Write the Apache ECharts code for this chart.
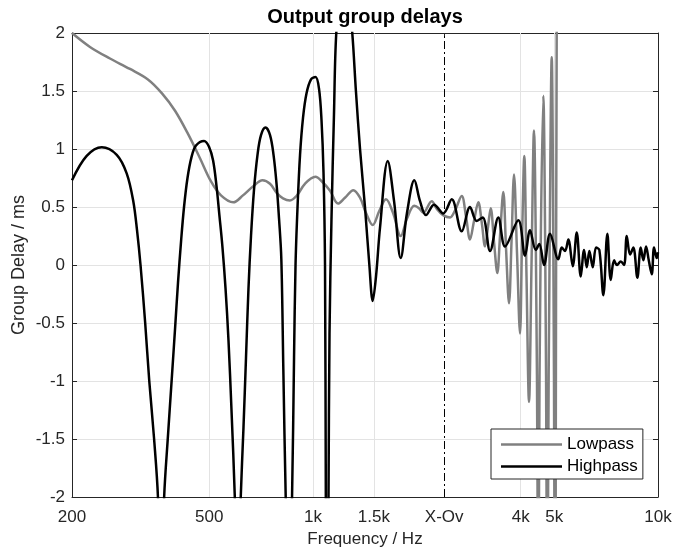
<!DOCTYPE html>
<html>
<head>
<meta charset="utf-8">
<script src="https://cdn.jsdelivr.net/npm/echarts@6/dist/echarts.min.js"></script>
<style>
html,body{margin:0;padding:0;background:#fff;}
#chart{width:675px;height:548px;}
</style>
</head>
<body>
<div id="chart"></div>
<script>
// ---- data ----
const tickValues = [200, 500, 1000, 1500, 2400, 4000, 5000, 10000];
const tickLabels = ['200', '500', '1k', '1.5k', 'X-Ov', '4k', '5k', '10k'];
const gridFreqs = [500, 1000, 1500, 4000, 5000];
const crossoverFreq = 2400;

const lowpassFreq = [200,225.5,257.7,294.5,332,364.7,397.9,433.9,470,505.9,540.7,587,626,671,713.5,750,785,818,857,898,947,1016,1061,1120,1181,1237,1308,1368,1423,1489,1553,1627,1705,1795,1872,1966,2028,2087,2208,2287,2381,2495,2579,2697,2775,2851,2928,3013,3088,3151,3215,3273,3346,3421,3483,3561,3625,3699,3761,3824,3902,3980,4034,4096,4157,4227,4298,4370,4429,4474,4498,4519,4564,4650,4713,4751,4776,4802,4847,4919,4975,5005,5028,5052,5086,5164];
const lowpassDelay = [2.0,1.88,1.78,1.69,1.6,1.48,1.33,1.13,0.92,0.72,0.6,0.54,0.6,0.68,0.73,0.7,0.62,0.575,0.557,0.6,0.7,0.76,0.72,0.64,0.53,0.58,0.645,0.58,0.45,0.345,0.46,0.566,0.45,0.25,0.4,0.51,0.49,0.45,0.55,0.48,0.43,0.41,0.47,0.595,0.42,0.22,0.38,0.54,0.35,0.16,0.33,0.49,0.2,-0.07,0.25,0.63,0.15,-0.33,0.2,0.78,0.1,-0.59,0.2,0.94,-0.1,-1.18,0.0,1.16,0.0,-1.9,-6,-1.9,0.0,1.46,0.0,-1.9,-6,-1.9,0.0,1.79,0.0,-1.9,-6,-1.9,2.1,6];

const highpassFreq = [200,220.6,244,269.6,288.1,301.1,308.7,316,326,335,346,355,362,370,380,389.9,397.9,405.9,414.1,422.5,432.4,444.1,457.6,483,499.2,513,524.8,535.4,546.2,557.3,568.5,580,593,605,617,628.4,639,649.7,660.7,674.1,690,706.3,727.9,750.2,767.9,783.5,796.7,809,819.9,833,851,869,880.6,889.4,901.4,916.6,935.1,957.2,986.3,1016.3,1040.3,1057.8,1072,1082.9,1088.7,1097.3,1108.5,1115.8,1130.7,1149.7,1167.5,1229,1299,1331,1368,1414,1456,1489,1522,1563,1646,1717,1795,1872,1966,2042,2125,2242,2385,2523,2697,2851,2981,3103,3258,3444,3602,3936,4116,4256,4421,4528,4673,4864,5141,5259,5376,5496,5660,5813,5971,6104,6215,6324,6469,6613,6760,6943,7131,7295,7458,7608,7799,7972,8117,8298,8483,8712,8912,9069,9234,9402,9592,9739,9916,10000];
const highpassDelay = [0.73,0.94,1.015,0.95,0.79,0.55,0.3,0,-0.5,-1,-1.5,-2,-3,-2,-1.45,-0.95,-0.55,-0.15,0.2,0.5,0.75,0.93,1.03,1.07,1.02,0.9,0.68,0.42,0.15,-0.2,-0.65,-1.25,-2,-3,-2,-1.4,-0.8,-0.2,0.25,0.65,0.95,1.12,1.185,1.12,0.95,0.7,0.4,0.05,-0.9,-2,-3,-2,-0.8,0.0,0.5,0.95,1.27,1.48,1.6,1.62,1.52,1.25,0.8,0.0,-2,-4,-2,-0.6,0.4,1.3,2.0,2.8,2.0,1.5,1.0,0.5,0,-0.31,-0.1,0.32,0.897,0.55,0.06,0.45,0.73,0.55,0.43,0.52,0.445,0.566,0.29,0.5,0.38,0.41,0.12,0.41,0.16,0.385,0.08,0.3,0.13,0.18,0.0,0.27,0.05,0.15,0.12,0.22,-0.01,0.28,-0.1,0.13,-0.02,0.12,-0.02,0.15,0.13,-0.26,0.27,-0.13,0.04,0.0,0.03,0.0,0.25,0.09,0.15,-0.11,0.15,0.04,0.16,0.04,-0.08,0.15,0.06,0.11];

// ---- chart ----
const FONT = "'Liberation Sans', Arial, Helvetica, sans-serif";
const AXIS_COLOR = '#262626';
const GRID_COLOR = '#e3e3e3';

function pairs(xs, ys) { return xs.map((x, i) => [x, ys[i]]); }
function labelFor(v) {
  for (let i = 0; i < tickValues.length; i++) {
    if (Math.abs(v - tickValues[i]) < 1e-6 * tickValues[i]) return tickLabels[i];
  }
  return '';
}

const chart = echarts.init(document.getElementById('chart'), null, {renderer: 'canvas'});

const xCommon = {
  type: 'log', logBase: 10, min: 200, max: 10000,
  axisLine: {show: true, onZero: false, lineStyle: {color: AXIS_COLOR, width: 1}},
  splitLine: {show: false},
  minorTick: {show: false}
};

const option = {
  animation: false,
  backgroundColor: '#fff',
  textStyle: {fontFamily: FONT},
  title: {
    text: 'Output group delays',
    left: 365, top: 7, textAlign: 'center', padding: 0,
    textStyle: {fontFamily: FONT, fontSize: 20, fontWeight: 'bold', color: '#000'}
  },
  grid: {left: 72, right: 17, top: 33, bottom: 51, containLabel: false, outerBoundsMode: 'none'},
  legend: {
    orient: 'vertical', left: 491, top: 429,
    data: [{name: 'Lowpass', icon: 'rect'}, {name: 'Highpass', icon: 'rect'}],
    itemWidth: 61, itemHeight: 2.5, itemGap: 5, itemTextGap: 1,
    padding: [7, 5, 4, 10],
    borderColor: AXIS_COLOR, borderWidth: 1, borderRadius: 0,
    backgroundColor: '#fff',
    textStyle: {fontFamily: FONT, fontSize: 17, color: '#000'},
    selectedMode: false
  },
  xAxis: [
    Object.assign({}, xCommon, {
      position: 'bottom',
      axisTick: {show: true, inside: true, length: 5, customValues: tickValues, lineStyle: {color: AXIS_COLOR}},
      axisLabel: {show: true, customValues: tickValues, formatter: labelFor, fontFamily: FONT, fontSize: 17, color: AXIS_COLOR, margin: 12},
      name: 'Frequency / Hz', nameLocation: 'middle', nameGap: 34, nameMoveOverlap: false,
      nameTextStyle: {fontFamily: FONT, fontSize: 17, color: AXIS_COLOR}
    }),
    Object.assign({}, xCommon, {
      position: 'top',
      axisTick: {show: true, inside: true, length: 5, customValues: tickValues, lineStyle: {color: AXIS_COLOR}},
      axisLabel: {show: false}
    })
  ],
  yAxis: [
    {
      type: 'value', min: -2, max: 2, interval: 0.5, position: 'left',
      axisLine: {show: true, onZero: false, lineStyle: {color: AXIS_COLOR}},
      axisTick: {show: true, inside: true, length: 5, lineStyle: {color: AXIS_COLOR}},
      axisLabel: {fontFamily: FONT, fontSize: 17, color: AXIS_COLOR, margin: 7},
      splitLine: {show: true, lineStyle: {color: GRID_COLOR, width: 1}},
      name: 'Group Delay / ms', nameLocation: 'middle', nameGap: 44, nameRotate: 90, nameMoveOverlap: false,
      nameTextStyle: {fontFamily: FONT, fontSize: 18, color: AXIS_COLOR}
    },
    {
      type: 'value', min: -2, max: 2, interval: 0.5, position: 'right',
      axisLine: {show: true, onZero: false, lineStyle: {color: AXIS_COLOR}},
      axisTick: {show: true, inside: true, length: 5, lineStyle: {color: AXIS_COLOR}},
      axisLabel: {show: false},
      splitLine: {show: false}
    }
  ],
  series: [
    {
      name: 'Lowpass', type: 'line', xAxisIndex: 0, yAxisIndex: 0,
      data: pairs(lowpassFreq, lowpassDelay),
      showSymbol: false, symbol: 'none', smooth: 0.35, clip: true, z: 3,
      lineStyle: {color: '#808080', width: 2.5},
      itemStyle: {color: '#808080'},
      markLine: {
        silent: true, symbol: 'none', z: 1, animation: false,
        label: {show: false},
        lineStyle: {color: GRID_COLOR, width: 1, type: 'solid'},
        data: gridFreqs.map(f => ({xAxis: f})).concat([
          {xAxis: crossoverFreq, lineStyle: {color: '#000', width: 1, type: [8, 3, 2, 3]}}
        ])
      }
    },
    {
      name: 'Highpass', type: 'line', xAxisIndex: 0, yAxisIndex: 0,
      data: pairs(highpassFreq, highpassDelay),
      showSymbol: false, symbol: 'none', smooth: 0.35, clip: true, z: 4,
      lineStyle: {color: '#000', width: 2.5},
      itemStyle: {color: '#000'}
    }
  ]
};
chart.setOption(option);
</script>
</body>
</html>
